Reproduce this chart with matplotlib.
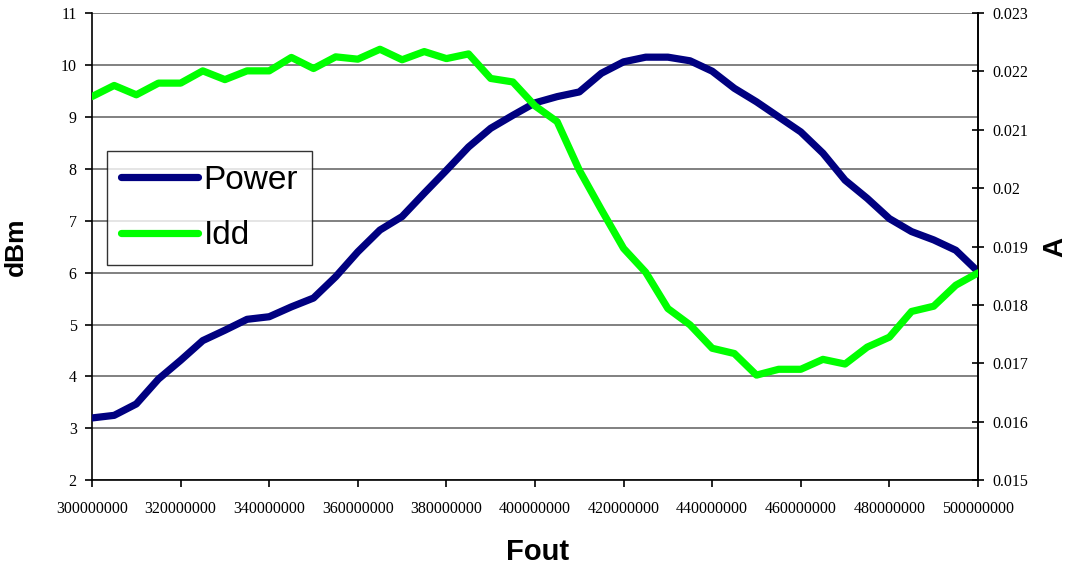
import matplotlib
matplotlib.use("Agg")
import matplotlib.pyplot as plt
from matplotlib.ticker import FuncFormatter

fout = [300000000 + 5000000 * i for i in range(41)]
power = [3.20, 3.25, 3.47, 3.95, 4.31, 4.69, 4.89, 5.10, 5.15, 5.34,
         5.51, 5.92, 6.40, 6.82, 7.08, 7.53, 7.97, 8.42, 8.78, 9.03,
         9.27, 9.39, 9.48, 9.84, 10.06, 10.15, 10.15, 10.08, 9.88, 9.55,
         9.29, 9.00, 8.71, 8.30, 7.78, 7.43, 7.04, 6.79, 6.63, 6.43, 6.02]
idd = [0.02157, 0.02176, 0.02160, 0.02180, 0.02180, 0.02201, 0.02186, 0.02201, 0.02201, 0.02224,
       0.02205, 0.02225, 0.02221, 0.02238, 0.02220, 0.02234, 0.02222, 0.02230, 0.02188, 0.02182,
       0.02141, 0.02114, 0.02031, 0.01963, 0.01897, 0.01856, 0.01794, 0.01766, 0.01726, 0.01717,
       0.01680, 0.01690, 0.01690, 0.01707, 0.01699, 0.01728, 0.01745, 0.01789, 0.01798, 0.01834, 0.01855]

fig = plt.figure(figsize=(10.7, 5.67), dpi=100)
ax = fig.add_axes([0.086, 0.153, 0.828, 0.824])
ax2 = ax.twinx()

ax.set_xlim(300000000, 500000000)
ax.set_ylim(2, 11)
ax2.set_ylim(0.015, 0.023)
ax.set_xticks(range(300000000, 500000001, 20000000))
ax.set_yticks(range(2, 12))
ax2.set_yticks([0.015 + 0.001 * i for i in range(9)])
ax.xaxis.set_major_formatter(FuncFormatter(lambda v, p: "%d" % v))
ax2.yaxis.set_major_formatter(FuncFormatter(lambda v, p: "%g" % round(v, 4)))

ax.grid(axis="y", color="#808080", linewidth=1.4)
ax.set_axisbelow(True)

l1, = ax.plot(fout, power, color="#000080", linewidth=5.2, solid_joinstyle="round",
              solid_capstyle="round", label="Power", zorder=3)
l2, = ax2.plot(fout, idd, color="#00ff00", linewidth=5.2, solid_joinstyle="round",
               solid_capstyle="round", label="Idd", zorder=3)

for a in (ax, ax2):
    a.spines["top"].set_visible(False)
    for s in ("left", "right", "bottom"):
        a.spines[s].set_color("black")
        a.spines[s].set_linewidth(1.2)
ax2.spines["left"].set_visible(False)
ax2.spines["bottom"].set_visible(False)

for lab in ax.get_xticklabels() + ax.get_yticklabels() + ax2.get_yticklabels():
    lab.set_fontfamily("Liberation Serif")
    lab.set_fontsize(11.5)
ax.tick_params(axis="both", direction="out", length=5, width=1.2, color="black")
ax.tick_params(axis="x", pad=10)
ax.tick_params(axis="y", pad=6)
ax2.tick_params(axis="y", direction="inout", length=9, width=1.2, pad=6)

ax.set_xlabel("Fout", fontsize=21, fontweight="bold", family="Liberation Sans")
ax.set_ylabel("dBm", fontsize=19, fontweight="bold", family="Liberation Sans")
ax2.set_ylabel("A", fontsize=20, fontweight="bold", family="Liberation Sans")
ax.xaxis.set_label_coords(0.503, -0.124)
ax.yaxis.set_label_coords(-0.0722, 0.5)
ax2.yaxis.set_label_coords(1.0722, 0.5)

leg = fig.legend(handles=[l1, l2], loc="upper left", bbox_to_anchor=(0.1, 0.734),
                 prop={"family": "Liberation Sans", "size": 24}, frameon=True,
                 fancybox=False, edgecolor="black", handlelength=2.3,
                 borderpad=0.42, labelspacing=0.74, handletextpad=0.18, borderaxespad=0)
leg.get_frame().set_linewidth(1.0)

fig.savefig("out.png", dpi=100)
